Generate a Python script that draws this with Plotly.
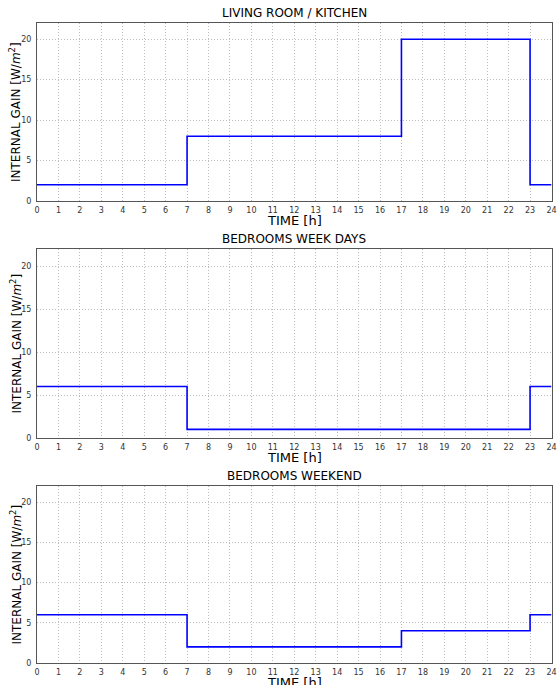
import plotly.graph_objects as go

W, H = 557, 685

hours = [0, 7, 17, 23, 24]
living_kitchen = [2, 8, 20, 2, 2]
hours_wd = [0, 7, 23, 24]
bedrooms_weekdays = [6, 1, 6, 6]
hours_we = [0, 7, 17, 23, 24]
bedrooms_weekend = [6, 2, 4, 6, 6]

titles = ["LIVING ROOM / KITCHEN", "BEDROOMS WEEK DAYS", "BEDROOMS WEEKEND"]
x_ticks = list(range(0, 25))
y_ticks = [0, 5, 10, 15, 20]

series = [(hours, living_kitchen), (hours_wd, bedrooms_weekdays), (hours_we, bedrooms_weekend)]

# pixel layout of panels (top, bottom)
panels_px = [(23, 201), (249, 438), (486, 663)]
x_left, x_right = 37, 551.5

def py(y):
    return 1 - y / H

def pxx(x):
    return x / W

fig = go.Figure()
font = "DejaVu Sans"
annotations = []
for i, ((xs, ys), (top, bot)) in enumerate(zip(series, panels_px)):
    n = "" if i == 0 else str(i + 1)
    fig.add_trace(go.Scatter(x=xs, y=ys, mode="lines", line=dict(shape="hv", color="#0000ff", width=1.6),
                             xaxis="x" + n, yaxis="y" + n, showlegend=False, hoverinfo="skip"))
    common = dict(showline=True, mirror=True, linecolor="#555555", linewidth=1,
                  showgrid=True, gridcolor="#bdbdbd", griddash="1px,2px", gridwidth=1,
                  zeroline=False, ticks="", automargin=False,
                  tickfont=dict(family=font, size=8, color="#333333"))
    fig.update_layout(**{
        "xaxis" + n: dict(domain=[pxx(x_left), pxx(x_right)], range=[0, 24], tickvals=x_ticks,
                          anchor="y" + n, ticklabelstandoff=1, **common),
        "yaxis" + n: dict(domain=[py(bot), py(top)], range=[0, 22], tickvals=y_ticks,
                          anchor="x" + n, ticklabelstandoff=3, **common),
    })
    cx = pxx((x_left + x_right) / 2)
    annotations.append(dict(text=titles[i], x=cx, y=py(top - 1), xref="paper", yref="paper",
                            xanchor="center", yanchor="bottom", showarrow=False,
                            font=dict(family=font, size=12, color="black")))
    annotations.append(dict(text="TIME [h]", x=cx, y=py(bot + 10), xref="paper", yref="paper",
                            xanchor="center", yanchor="top", showarrow=False,
                            font=dict(family=font, size=13, color="black")))
    annotations.append(dict(text="INTERNAL GAIN [W/<i>m</i><sup>2</sup>]", x=pxx(15), y=py((top + bot) / 2),
                            xref="paper", yref="paper", xanchor="center", yanchor="middle",
                            textangle=-90, showarrow=False,
                            font=dict(family=font, size=12, color="black")))

fig.update_layout(width=W, height=H, margin=dict(l=0, r=0, t=0, b=0),
                  paper_bgcolor="white", plot_bgcolor="white", annotations=annotations)
fig.write_html("out.html", config={"displayModeBar": False},
               post_script="document.body.style.margin='0';document.body.style.overflow='hidden';")
